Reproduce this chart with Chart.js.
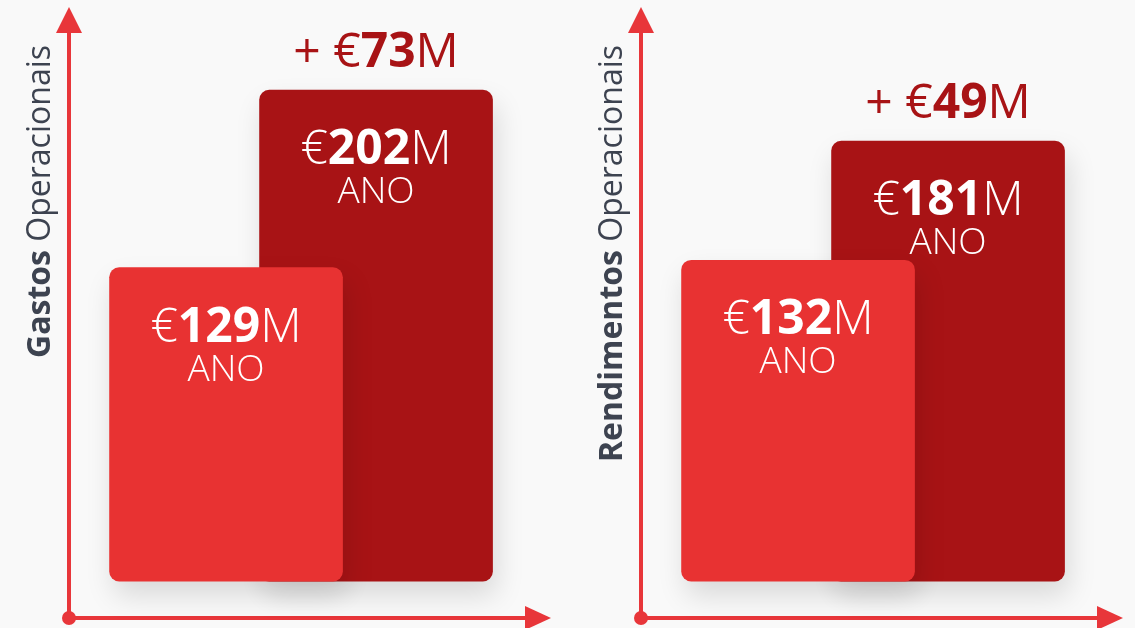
<!DOCTYPE html>
<html>
<head>
<meta charset="utf-8">
<script src="https://cdn.jsdelivr.net/npm/chart.js@4.4.0/dist/chart.umd.min.js"></script>
<style>
  html, body { margin: 0; padding: 0; background: #f9f9f9; }
  body { width: 1135px; height: 628px; position: relative; overflow: hidden; }
  .panel { position: absolute; top: 0; width: 562px; height: 628px; }
</style>
</head>
<body>
<div class="panel" style="left:0"><canvas id="gastos"></canvas></div>
<div class="panel" style="left:572px"><canvas id="rendimentos"></canvas></div>
<script>
// data
const slots = [1, 2];
const gastosValues = [129, 202];
const rendimentosValues = [132, 181];
const gastosTitle = ["Gastos", " Operacionais"];
const rendimentosTitle = ["Rendimentos", " Operacionais"];
const periodLabel = "ANO";

const lightRed = "#e83232";
const darkRed = "#a81315";
const axisRed = "#e8363a";
const titleGray = "#3d4350";
const FONT = "'Open Sans', 'Noto Sans', sans-serif";

function drawParts(ctx, parts, x, y, align) {
  let total = 0;
  parts.forEach((p) => { ctx.font = p[1]; total += ctx.measureText(p[0]).width; });
  let cx = align === "right" ? x - total : x - total / 2;
  ctx.textAlign = "left";
  parts.forEach((p) => {
    ctx.font = p[1];
    ctx.fillText(p[0], cx, y);
    cx += ctx.measureText(p[0]).width;
  });
}

const overlay = {
  id: "overlay",
  beforeDatasetsDraw(chart) {
    const ctx = chart.ctx;
    const { left, right, top, bottom } = chart.chartArea;
    ctx.save();
    ctx.strokeStyle = axisRed;
    ctx.fillStyle = axisRed;
    ctx.lineWidth = 4;
    ctx.beginPath();
    ctx.moveTo(left, bottom);
    ctx.lineTo(left, top);
    ctx.moveTo(left, bottom);
    ctx.lineTo(right, bottom);
    ctx.stroke();
    ctx.beginPath();
    ctx.moveTo(left, top - 26);
    ctx.lineTo(left - 13, top);
    ctx.lineTo(left + 13, top);
    ctx.closePath();
    ctx.fill();
    ctx.beginPath();
    ctx.moveTo(right + 26, bottom);
    ctx.lineTo(right, bottom - 12);
    ctx.lineTo(right, bottom + 12);
    ctx.closePath();
    ctx.fill();
    ctx.beginPath();
    ctx.arc(left, bottom, 7, 0, Math.PI * 2);
    ctx.fill();

    // axis title, rotated
    const t = chart.options.plugins.overlay.title;
    ctx.translate(left - 19, 45);
    ctx.rotate(-Math.PI / 2);
    ctx.fillStyle = titleGray;
    ctx.textBaseline = "alphabetic";
    drawParts(ctx, [[t[0], "700 32px " + FONT], [t[1], "400 32px " + FONT]], 0, 0, "right");
    ctx.restore();
  },
  beforeDatasetDraw(chart) {
    const ctx = chart.ctx;
    ctx.save();
    ctx.shadowColor = "rgba(0,0,0,0.13)";
    ctx.shadowBlur = 28;
    ctx.shadowOffsetX = 4;
    ctx.shadowOffsetY = 14;
  },
  afterDatasetDraw(chart) {
    chart.ctx.restore();
  },
  afterDatasetsDraw(chart) {
    const ctx = chart.ctx;
    ctx.save();
    ctx.textBaseline = "alphabetic";
    const vals = chart.data.datasets.map((d) => d.data[0].y);
    chart.data.datasets.forEach((d, i) => {
      const bar = chart.getDatasetMeta(i).data[0];
      ctx.fillStyle = "#ffffff";
      drawParts(ctx, [
        ["€", "300 48px " + FONT],
        [String(d.data[0].y), "700 48px " + FONT],
        ["M", "300 48px " + FONT]
      ], bar.x, bar.y + 74);
      drawParts(ctx, [[periodLabel, "300 37px " + FONT]], bar.x, bar.y + 113);
    });
    const top = chart.getDatasetMeta(1).data[0];
    ctx.fillStyle = darkRed;
    drawParts(ctx, [
      ["+ €", "400 48px " + FONT],
      [String(vals[1] - vals[0]), "700 48px " + FONT],
      ["M", "400 48px " + FONT]
    ], top.x, top.y - 23);
    ctx.restore();
  }
};

function makeChart(id, values, title) {
  const barStyle = {
    base: 0,
    barThickness: 233,
    borderRadius: 10,
    borderSkipped: false,
    grouped: false
  };
  return new Chart(document.getElementById(id), {
    type: "bar",
    data: {
      datasets: [
        Object.assign({ data: [{ x: slots[0], y: values[0] }], backgroundColor: lightRed }, barStyle),
        Object.assign({ data: [{ x: slots[1], y: values[1] }], backgroundColor: darkRed }, barStyle)
      ]
    },
    options: {
      responsive: true,
      maintainAspectRatio: false,
      animation: false,
      layout: { padding: { left: 69, top: 33, right: 37, bottom: 10 } },
      scales: {
        x: { type: "linear", offset: false, min: -0.047, max: 2.993, display: false },
        y: { min: -15.2, max: 225.5, display: false }
      },
      plugins: {
        legend: { display: false },
        tooltip: { enabled: false },
        overlay: { title: title }
      }
    },
    plugins: [overlay]
  });
}

Promise.all([
  document.fonts.load("300 46px 'Open Sans'"),
  document.fonts.load("400 46px 'Open Sans'"),
  document.fonts.load("700 46px 'Open Sans'")
]).catch(() => {}).then(() => {
  makeChart("gastos", gastosValues, gastosTitle);
  makeChart("rendimentos", rendimentosValues, rendimentosTitle);
});
</script>
</body>
</html>
